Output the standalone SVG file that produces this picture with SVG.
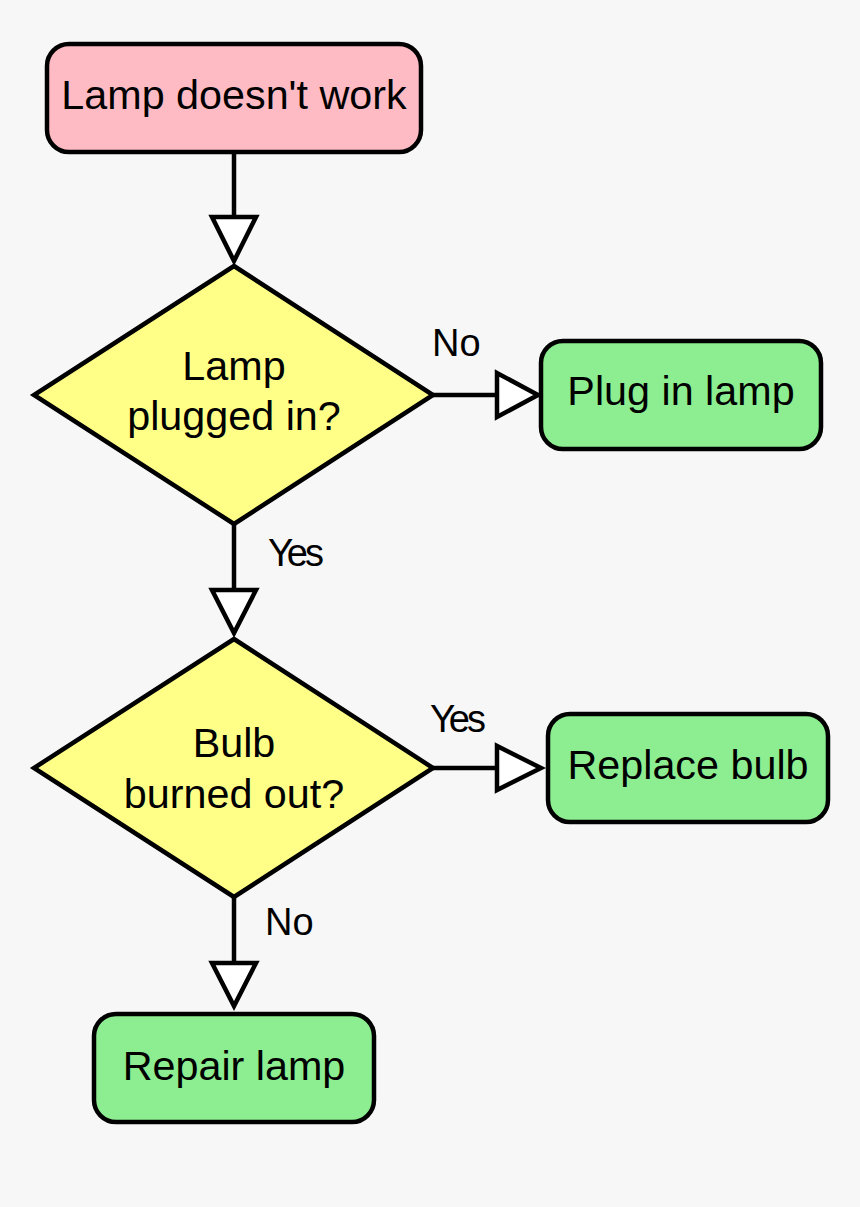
<svg xmlns="http://www.w3.org/2000/svg" width="860" height="1207" viewBox="0 0 860 1207">
<defs>
<style>
.box{stroke:#000;stroke-width:4.5}
.start{fill:#ffbbc4}
.act{fill:#8cee90}
.dec{fill:#ffff88;stroke:#000;stroke-width:4.5;stroke-linejoin:miter}
.t{font-family:"Liberation Sans",Arial,sans-serif;font-size:41.3px;fill:#000;text-anchor:middle}
.l{font-family:"Liberation Sans",Arial,sans-serif;font-size:38px;fill:#000}
.c{stroke:#000;stroke-width:4.5;fill:none}
.ah{fill:#fff;stroke:#000;stroke-width:4.5;stroke-linejoin:miter}
</style>
</defs>
<rect width="860" height="1207" fill="#f7f7f7"/>
<g id="connectors">
<line class="c" x1="234" y1="153" x2="234" y2="217"/>
<polygon class="ah" points="212,217 256,217 234,261"/>
<line class="c" x1="433" y1="395" x2="497" y2="395"/>
<polygon class="ah" points="497,373 497,417 538,395"/>
<line class="c" x1="234" y1="525" x2="234" y2="590"/>
<polygon class="ah" points="212,590 256,590 234,633"/>
<line class="c" x1="433" y1="768" x2="497" y2="768"/>
<polygon class="ah" points="497,746 497,790 541,768"/>
<line class="c" x1="234" y1="897" x2="234" y2="963"/>
<polygon class="ah" points="212,963 256,963 234,1006"/>
<text class="l" x="432" y="356">No</text>
<text class="l" x="268" y="566" letter-spacing="-3">Yes</text>
<text class="l" x="430" y="732" letter-spacing="-3">Yes</text>
<text class="l" x="265" y="935">No</text>
</g>
<g id="n-start">
<rect class="box start" x="47" y="44" width="374" height="108" rx="22"/>
<text class="t" x="234" y="109">Lamp doesn't work</text>
</g>
<g id="n-plugged">
<polygon class="dec" points="234,266 433,395 234,524 34,395"/>
<text class="t" x="234" y="380">Lamp</text>
<text class="t" x="234" y="430">plugged in?</text>
</g>
<g id="n-plug">
<rect class="box act" x="541" y="341" width="280" height="108" rx="22"/>
<text class="t" x="681" y="405">Plug in lamp</text>
</g>
<g id="n-bulb">
<polygon class="dec" points="234,639 433,768 234,897 34,768"/>
<text class="t" x="234" y="757">Bulb</text>
<text class="t" x="234" y="808">burned out?</text>
</g>
<g id="n-replace">
<rect class="box act" x="548" y="714" width="280" height="108" rx="22"/>
<text class="t" x="688" y="779">Replace bulb</text>
</g>
<g id="n-repair">
<rect class="box act" x="94" y="1014" width="280" height="108" rx="22"/>
<text class="t" x="234" y="1080">Repair lamp</text>
</g>
</svg>
